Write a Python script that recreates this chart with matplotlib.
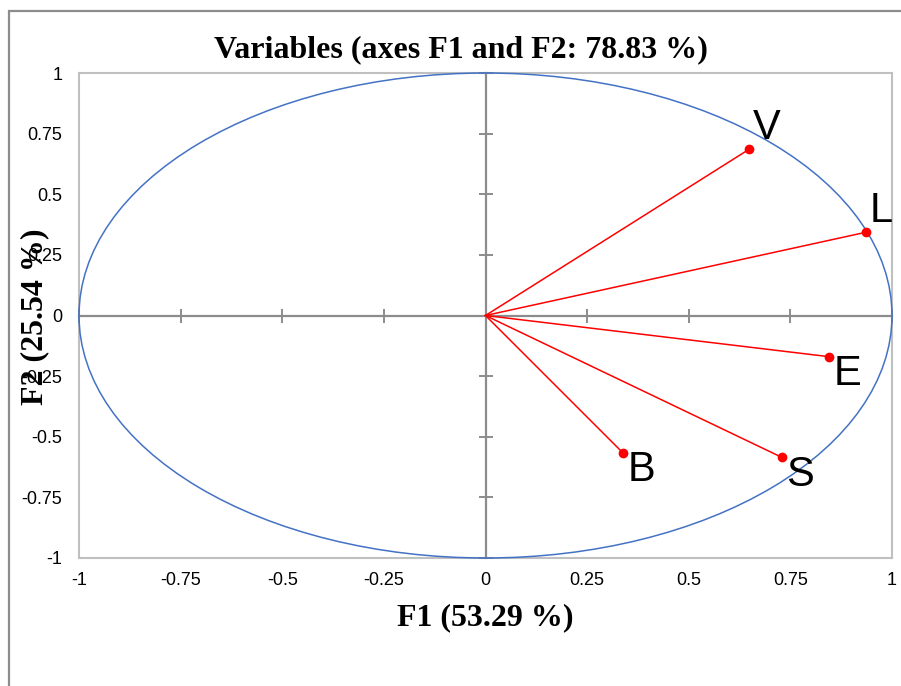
import matplotlib
matplotlib.use('Agg')
import matplotlib.pyplot as plt
from matplotlib.patches import Circle, Rectangle

# loadings of the variables on F1 / F2
names = ['V', 'L', 'E', 'S', 'B']
f1 = [0.648, 0.935, 0.846, 0.729, 0.339]
f2 = [0.685, 0.343, -0.170, -0.585, -0.568]

ticks = [-1, -0.75, -0.5, -0.25, 0, 0.25, 0.5, 0.75, 1]
tick_labels = ['-1', '-0.75', '-0.5', '-0.25', '0', '0.25', '0.5', '0.75', '1']

title = 'Variables (axes F1 and F2: 78.83 %)'
xlab = 'F1 (53.29 %)'
ylab = 'F2 (25.54 %)'

W, H = 901, 686
fig = plt.figure(figsize=(W / 100, H / 100), dpi=100)

# outer chart border (runs off the right and bottom)
fig.patches.append(Rectangle((8.5 / W, -0.2), 1.2, (H - 11) / H + 0.2,
                             transform=fig.transFigure, fill=False,
                             edgecolor='#8c8c8c', linewidth=1.6))

rect = [79 / W, (H - 558) / H, (892 - 79) / W, (558 - 73) / H]
ax = fig.add_axes(rect)
ax.set_xlim(-1, 1)
ax.set_ylim(-1, 1)
for s in ax.spines.values():
    s.set_color('#c0c0c0')
    s.set_linewidth(1.5)
ax.set_xticks(ticks)
ax.set_xticklabels(tick_labels)
ax.set_yticks(ticks)
ax.set_yticklabels(tick_labels)
ax.tick_params(axis='x', length=0, pad=10, labelsize=13)
ax.tick_params(axis='y', length=0, pad=12, labelsize=13)
for t in ax.get_xticklabels() + ax.get_yticklabels():
    t.set_fontfamily('Liberation Sans')

# centre cross with tick marks
ax2 = fig.add_axes(rect, sharex=ax, sharey=ax)
ax2.patch.set_visible(False)
ax2.spines['top'].set_visible(False)
ax2.spines['right'].set_visible(False)
ax2.spines['left'].set_position(('data', 0))
ax2.spines['bottom'].set_position(('data', 0))
for s in ['left', 'bottom']:
    ax2.spines[s].set_color('#8c8c8c')
    ax2.spines[s].set_linewidth(1.6)
ax2.tick_params(direction='inout', length=10, width=1.4, color='#8c8c8c',
                labelleft=False, labelbottom=False)

# correlation circle
ax2.add_patch(Circle((0, 0), 1, fill=False, edgecolor='#4472c4',
                     linewidth=1.1, clip_on=False, zorder=3))

for n, x, y in zip(names, f1, f2):
    ax2.plot([0, x], [0, y], color='red', linewidth=1.1, zorder=4)
    ax2.plot(x, y, 'o', color='red', markersize=6, zorder=5)
    va = 'bottom' if y > 0 else 'top'
    dy = 1 if y > 0 else 2
    ax2.annotate(n, (x, y), xytext=(3, dy), textcoords='offset points',
                 ha='left', va=va, fontsize=30, family='Liberation Sans',
                 zorder=6)

fig.text(461 / W, (H - 50) / H, title, ha='center', va='center',
         fontsize=23, fontweight='bold', family='Liberation Serif')
fig.text(485 / W, (H - 618) / H, xlab, ha='center', va='center',
         fontsize=23, fontweight='bold', family='Liberation Serif')
fig.text(35 / W, (H - 317) / H, ylab, ha='center', va='center',
         rotation=90, fontsize=23, fontweight='bold',
         family='Liberation Serif', zorder=0)

fig.savefig('out.png', dpi=100)
